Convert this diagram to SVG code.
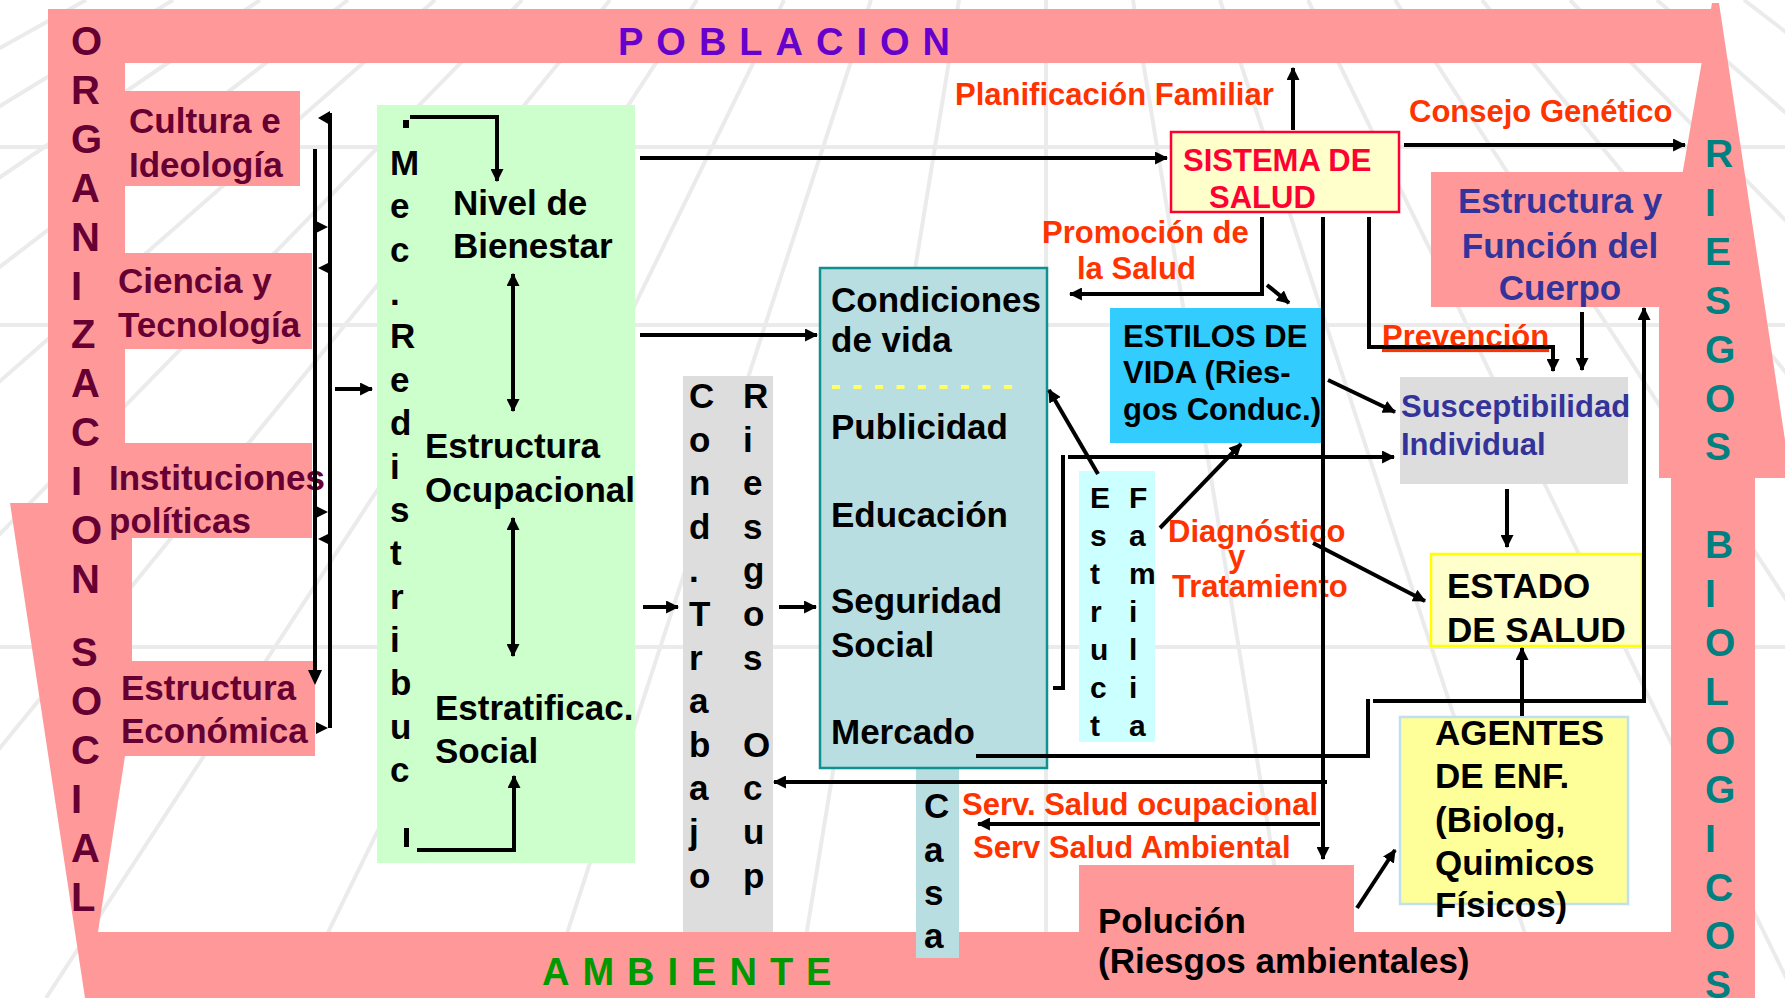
<svg xmlns="http://www.w3.org/2000/svg" width="1785" height="998" viewBox="0 0 1785 998">
<defs>
<style>
.t{font-family:"Liberation Sans",Arial,sans-serif;font-weight:bold}
.b35{font-size:35px;fill:#000}
.b31{font-size:31px;fill:#000}
.b30{font-size:30px;fill:#000}
.mar{font-size:35px;fill:#660033}
.org{font-size:40px;fill:#660033}
.lab{font-size:31px;fill:#FF3300}
.blu31{font-size:31px;fill:#333399}
.blu35{font-size:35px;fill:#333399}
.ries{font-size:39px;fill:#008080}
.pink{fill:#FF9999}
.ln{fill:none;stroke:#000;stroke-width:4}
.bg{stroke:#EBEBEB;stroke-width:4;fill:none}
</style>
<marker id="ah" viewBox="0 0 12 12" refX="11" refY="6" markerWidth="13" markerHeight="13" markerUnits="userSpaceOnUse" orient="auto-start-reverse">
<path d="M0,0 L12,6 L0,12 z" fill="#000"/>
</marker>
</defs>
<rect width="1785" height="998" fill="#FFFFFF"/>
<g id="background">
<path class="bg" d="M0,147 H1785 M0,325 H1785 M0,647 H1785"/>
<path class="bg" d="M86,0 L-1704,998 M173,0 L-1454,998 M260,0 L-1204,998 M348,0 L-954,998 M435,0 L-704,998 M522,0 L-454,998 M610,0 L-204,998 M697,0 L46,998 M784,0 L296,998 M871,0 L546,998 M959,0 L796,998 M1046,0 L1046,998 M1133,0 L1296,998 M1220,0 L1546,998 M1308,0 L1796,998 M1395,0 L2046,998 M1482,0 L2296,998 M1570,0 L2546,998 M1657,0 L2796,998 M1744,0 L3046,998"/>
</g>
<g id="frame">
<rect class="pink" x="48" y="9" width="1672" height="54"/>
<polygon class="pink" points="48,9 125,9 125,538 132,538 132,756 125,756 98,932 98,998 85,998 10,503 48,503"/>
<polygon class="pink" points="98,932 1755,932 1755,998 85,998"/>
<rect class="pink" x="1671" y="470" width="84" height="528"/>
<polygon class="pink" points="1712,3 1719,3 1785,440 1785,478 1659,478 1659,309"/>
</g>
<g id="n-cultura"><rect class="pink" x="125" y="91" width="175" height="95"/>
<text class="t mar" x="129" y="133">Cultura e</text><text class="t mar" x="129" y="177">Ideología</text></g>
<g id="n-ciencia"><rect class="pink" x="125" y="253" width="187" height="96"/>
<text class="t mar" x="118" y="293">Ciencia y</text><text class="t mar" x="118" y="337">Tecnología</text></g>
<g id="n-instituciones"><rect class="pink" x="125" y="443" width="187" height="95"/>
<text class="t mar" x="109" y="490">Instituciones</text><text class="t mar" x="109" y="533">políticas</text></g>
<g id="n-economica"><rect class="pink" x="132" y="661" width="183" height="95"/>
<text class="t mar" x="121" y="700">Estructura</text><text class="t mar" x="121" y="743">Económica</text></g>
<g id="n-organizacion">
<text class="t org"><tspan x="71" y="55">O</tspan><tspan x="71" y="104">R</tspan><tspan x="71" y="153">G</tspan><tspan x="71" y="202">A</tspan><tspan x="71" y="251">N</tspan><tspan x="71" y="300">I</tspan><tspan x="71" y="348">Z</tspan><tspan x="71" y="397">A</tspan><tspan x="71" y="446">C</tspan><tspan x="71" y="495">I</tspan><tspan x="71" y="544">O</tspan><tspan x="71" y="593">N</tspan><tspan x="71" y="666">S</tspan><tspan x="71" y="715">O</tspan><tspan x="71" y="764">C</tspan><tspan x="71" y="813">I</tspan><tspan x="71" y="862">A</tspan><tspan x="71" y="911">L</tspan></text>
</g>
<g id="n-poblacion"><text class="t" x="618" y="55" font-size="38" fill="#6600CC" letter-spacing="13">POBLACION</text></g>
<g id="n-ambiente"><text class="t" x="542" y="985" font-size="38" fill="#009900" letter-spacing="13">AMBIENTE</text></g>
<g id="n-riesgos">
<text class="t ries"><tspan x="1705" y="167">R</tspan><tspan x="1705" y="216">I</tspan><tspan x="1705" y="265">E</tspan><tspan x="1705" y="314">S</tspan><tspan x="1705" y="363">G</tspan><tspan x="1705" y="412">O</tspan><tspan x="1705" y="460">S</tspan><tspan x="1705" y="558">B</tspan><tspan x="1705" y="607">I</tspan><tspan x="1705" y="656">O</tspan><tspan x="1705" y="705">L</tspan><tspan x="1705" y="754">O</tspan><tspan x="1705" y="803">G</tspan><tspan x="1705" y="852">I</tspan><tspan x="1705" y="901">C</tspan><tspan x="1705" y="949">O</tspan><tspan x="1705" y="998">S</tspan></text>
</g>
<g id="n-cuerpo"><rect class="pink" x="1431" y="172" width="259" height="135"/>
<text class="t blu35" text-anchor="middle"><tspan x="1560" y="213">Estructura y</tspan><tspan x="1560" y="258">Función del</tspan><tspan x="1560" y="300">Cuerpo</tspan></text></g>
<g id="n-polucion"><rect class="pink" x="1079" y="865" width="275" height="80"/>
<text class="t b35" x="1098" y="933">Polución</text><text class="t b35" x="1098" y="973">(Riesgos ambientales)</text></g>
<g id="n-mecanismos"><rect x="377" y="105" width="258" height="758" fill="#CCFFCC"/>
<text class="t b35"><tspan x="390" y="175">M</tspan><tspan x="390" y="218">e</tspan><tspan x="390" y="262">c</tspan><tspan x="390" y="305">.</tspan><tspan x="390" y="348">R</tspan><tspan x="390" y="392">e</tspan><tspan x="390" y="435">d</tspan><tspan x="390" y="479">i</tspan><tspan x="390" y="522">s</tspan><tspan x="390" y="565">t</tspan><tspan x="390" y="609">r</tspan><tspan x="390" y="652">i</tspan><tspan x="390" y="695">b</tspan><tspan x="390" y="739">u</tspan><tspan x="390" y="782">c</tspan></text>
</g>
<g id="n-bienestar"><text class="t b35" x="453" y="215">Nivel de</text><text class="t b35" x="453" y="258">Bienestar</text></g>
<g id="n-ocupacional"><text class="t b35" x="425" y="458">Estructura</text><text class="t b35" x="425" y="502">Ocupacional</text></g>
<g id="n-estratificac"><text class="t b35" x="435" y="720">Estratificac.</text><text class="t b35" x="435" y="763">Social</text></g>
<g id="n-trabajo"><rect x="683" y="376" width="90" height="556" fill="#DDDDDD"/>
<text class="t b35"><tspan x="689" y="408">C</tspan><tspan x="689" y="452">o</tspan><tspan x="689" y="495">n</tspan><tspan x="689" y="539">d</tspan><tspan x="689" y="582">.</tspan><tspan x="689" y="626">T</tspan><tspan x="689" y="670">r</tspan><tspan x="689" y="713">a</tspan><tspan x="689" y="757">b</tspan><tspan x="689" y="800">a</tspan><tspan x="689" y="844">j</tspan><tspan x="689" y="888">o</tspan></text>
<text class="t b35"><tspan x="743" y="408">R</tspan><tspan x="743" y="452">i</tspan><tspan x="743" y="495">e</tspan><tspan x="743" y="539">s</tspan><tspan x="743" y="582">g</tspan><tspan x="743" y="626">o</tspan><tspan x="743" y="670">s</tspan><tspan x="743" y="757">O</tspan><tspan x="743" y="800">c</tspan><tspan x="743" y="844">u</tspan><tspan x="743" y="888">p</tspan></text>
</g>
<g id="n-casa"><rect x="916" y="766" width="43" height="192" fill="#B9DEE2"/>
<text class="t b35"><tspan x="924" y="818">C</tspan><tspan x="924" y="862">a</tspan><tspan x="924" y="905">s</tspan><tspan x="924" y="948">a</tspan></text></g>
<g id="n-condiciones"><rect x="820" y="268" width="227" height="500" fill="#B9DEE2" stroke="#119090" stroke-width="2.5"/>
<text class="t b35" x="831" y="312">Condiciones</text><text class="t b35" x="831" y="352">de vida</text>
<line x1="832" y1="387" x2="1012" y2="387" stroke="#FFFF66" stroke-width="4" stroke-dasharray="8,13.5"/>
<text class="t b35" x="831" y="439">Publicidad</text>
<text class="t b35" x="831" y="527">Educación</text>
<text class="t b35" x="831" y="613">Seguridad</text><text class="t b35" x="831" y="657">Social</text>
<text class="t b35" x="831" y="744">Mercado</text></g>
<g id="n-familia"><rect x="1079" y="471" width="76" height="271" fill="#CCFFFF"/>
<text class="t b30"><tspan x="1090" y="508">E</tspan><tspan x="1090" y="546">s</tspan><tspan x="1090" y="584">t</tspan><tspan x="1090" y="622">r</tspan><tspan x="1090" y="660">u</tspan><tspan x="1090" y="698">c</tspan><tspan x="1090" y="736">t</tspan></text>
<text class="t b30"><tspan x="1129" y="508">F</tspan><tspan x="1129" y="546">a</tspan><tspan x="1129" y="584">m</tspan><tspan x="1129" y="622">i</tspan><tspan x="1129" y="660">l</tspan><tspan x="1129" y="698">i</tspan><tspan x="1129" y="736">a</tspan></text></g>
<g id="n-estilos"><rect x="1110" y="308" width="213" height="135" fill="#33CCFF"/>
<text class="t b31" x="1123" y="347">ESTILOS DE</text><text class="t b31" x="1123" y="383">VIDA (Ries-</text><text class="t b31" x="1123" y="420">gos Conduc.)</text></g>
<g id="n-sistema"><rect x="1171" y="132" width="228" height="80" fill="#FFFFCC" stroke="#FF0033" stroke-width="2.5"/>
<text class="t" font-size="31" fill="#FF0033" x="1183" y="171">SISTEMA DE</text><text class="t" font-size="31" fill="#FF0033" x="1209" y="208">SALUD</text></g>
<g id="n-susceptibilidad"><rect x="1400" y="377" width="228" height="107" fill="#DDDDDD"/>
<text class="t blu31" x="1401" y="417">Susceptibilidad</text><text class="t blu31" x="1401" y="455">Individual</text></g>
<g id="n-estado"><rect x="1431" y="554" width="211" height="92" fill="#FFFFCC" stroke="#FFFF00" stroke-width="2.5"/>
<text class="t b35" x="1447" y="598">ESTADO</text><text class="t b35" x="1447" y="642">DE SALUD</text></g>
<g id="n-agentes"><rect x="1400" y="717" width="228" height="187" fill="#FFFF99" stroke="#BFE0EE" stroke-width="2.5"/>
<text class="t b35"><tspan x="1435" y="745">AGENTES</tspan><tspan x="1435" y="788">DE ENF.</tspan><tspan x="1435" y="832">(Biolog,</tspan><tspan x="1435" y="875">Quimicos</tspan><tspan x="1435" y="917">Físicos)</tspan></text></g>
<g id="labels">
<text class="t lab" x="955" y="105">Planificación Familiar</text>
<text class="t lab" x="1409" y="122">Consejo Genético</text>
<text class="t lab" x="1042" y="243">Promoción de</text><text class="t lab" x="1077" y="279">la Salud</text>
<text class="t lab" x="1382" y="347" text-decoration="underline">Prevención</text>
<text class="t lab" x="1168" y="542">Diagnóstico</text><text class="t lab" x="1228" y="567">y</text><text class="t lab" x="1172" y="597">Tratamiento</text>
<text class="t lab" x="962" y="815">Serv. Salud ocupacional</text>
<text class="t lab" x="973" y="858">Serv Salud Ambiental</text>
</g>
<g id="connectors">
<path class="ln" d="M315,149 V672"/>
<polygon points="308,670 322,670 315,685" fill="#000"/>
<path class="ln" d="M330,113 V728"/>
<polygon points="318,118 330,111 330,125" fill="#000"/>
<polygon points="316,221 328,227 316,233" fill="#000"/>
<polygon points="330,262 318,268 330,274" fill="#000"/>
<polygon points="316,506 328,512 316,518" fill="#000"/>
<polygon points="330,533 318,539 330,545" fill="#000"/>
<polygon points="316,722 328,728 316,734" fill="#000"/>
<path class="ln" d="M335,389 H372" marker-end="url(#ah)"/>
<rect x="403" y="120" width="6" height="8" fill="#000"/>
<path class="ln" d="M410,117 H497 V181" marker-end="url(#ah)"/>
<path class="ln" d="M513,274 V411" marker-start="url(#ah)" marker-end="url(#ah)"/>
<path class="ln" d="M513,518 V656" marker-start="url(#ah)" marker-end="url(#ah)"/>
<rect x="404" y="828" width="5" height="19" fill="#000"/>
<path class="ln" d="M417,850 H514 V776" marker-end="url(#ah)"/>
<path class="ln" d="M640,158 H1167" marker-end="url(#ah)"/>
<path class="ln" d="M640,335 H817" marker-end="url(#ah)"/>
<path class="ln" d="M643,607 H678" marker-end="url(#ah)"/>
<path class="ln" d="M779,607 H816" marker-end="url(#ah)"/>
<path class="ln" d="M1293,130 V68" stroke-width="3" marker-end="url(#ah)"/>
<path class="ln" d="M1404,145 H1685" marker-end="url(#ah)"/>
<path class="ln" d="M1262,217 V294 H1070" marker-end="url(#ah)"/>
<path class="ln" d="M1267,285 L1289,303" marker-end="url(#ah)"/>
<path class="ln" d="M1323,217 V859" marker-end="url(#ah)"/>
<path class="ln" d="M1369,217 V347 H1553 V371" marker-end="url(#ah)"/>
<path class="ln" d="M1582,312 V370" marker-end="url(#ah)"/>
<path class="ln" d="M1328,380 L1395,412" marker-end="url(#ah)"/>
<path class="ln" d="M1053,688 H1063 V455"/>
<path class="ln" d="M1068,457 H1394" marker-end="url(#ah)"/>
<path class="ln" d="M1098,474 L1049,390" marker-end="url(#ah)"/>
<path class="ln" d="M1160,528 L1241,444" marker-end="url(#ah)"/>
<path class="ln" d="M1313,543 L1425,601" marker-end="url(#ah)"/>
<path class="ln" d="M1507,489 V547" marker-end="url(#ah)"/>
<path class="ln" d="M976,756 H1368 V699"/>
<path class="ln" d="M1373,701 H1644 V308" marker-end="url(#ah)"/>
<path class="ln" d="M1522,716 V648" marker-end="url(#ah)"/>
<path class="ln" d="M1357,908 L1395,850" marker-end="url(#ah)"/>
<path class="ln" d="M1327,782 H774" marker-end="url(#ah)"/>
<path class="ln" d="M1320,824 H978" marker-end="url(#ah)"/>
</g>
</svg>
